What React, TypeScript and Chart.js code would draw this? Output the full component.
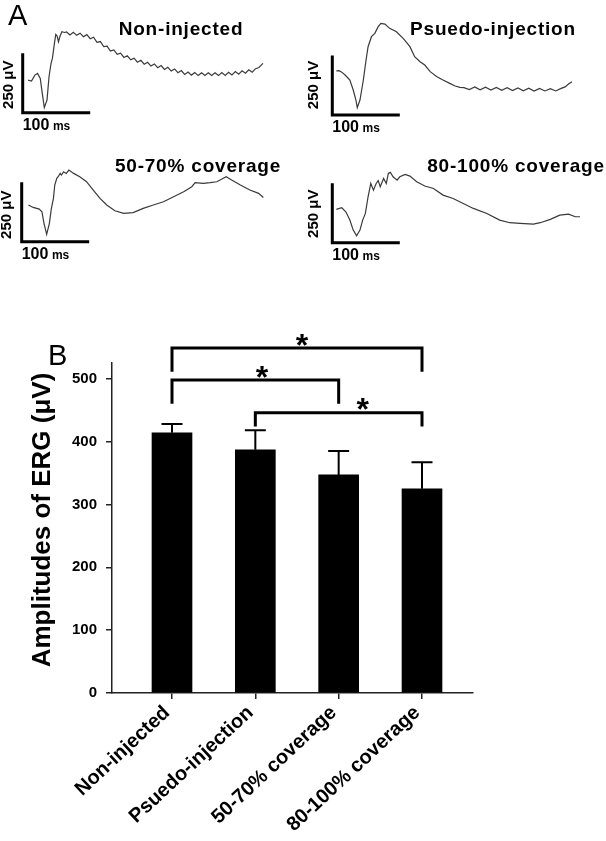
import React, { useEffect, useRef } from "react";
import { Chart, registerables } from "chart.js";

Chart.register(...registerables);

const FONT = "'Liberation Sans', Arial, Helvetica, sans-serif";

// ---------- Panel A: ERG traces (time in ms, amplitude in µV) ----------
const SCALE_MS = 100;
const SCALE_UV = 250;
const TRACE_TITLES = ["Non-injected", "Psuedo-injection", "50-70% coverage", "80-100% coverage"];

const T1 = [8, 13, 18, 22, 26, 29, 32, 36, 39, 42, 44, 47, 49, 51, 53, 55, 58, 62, 65, 70, 75, 80, 85, 90, 95, 100, 105, 110, 115, 120, 125, 130, 135, 140, 145, 150, 155, 160, 165, 170, 175, 180, 185, 190, 195, 200, 205, 210, 215, 220, 225, 230, 235, 240, 245, 250, 255, 260, 265, 270, 275, 280, 285, 290, 295, 300, 305, 310, 315, 320, 325, 330, 335, 340, 345, 350, 356];
const V1 = [137, 133, 158, 165, 144, 81, 22, 53, 151, 207, 228, 291, 329, 322, 298, 319, 340, 337, 339, 327, 338, 325, 334, 319, 328, 311, 317, 296, 299, 278, 280, 259, 264, 245, 250, 232, 239, 222, 229, 212, 220, 204, 212, 196, 205, 189, 198, 182, 191, 175, 184, 168, 177, 161, 171, 158, 169, 156, 168, 156, 168, 156, 168, 156, 169, 157, 170, 159, 173, 162, 176, 166, 180, 170, 185, 190, 207];

const T2 = [6, 10, 14, 19, 26, 31, 35, 37, 41, 46, 50, 53, 58, 63, 68, 72, 78, 85, 95, 105, 115, 122, 130, 137, 145, 155, 164, 174, 182, 189, 195, 203, 211, 219, 227, 235, 243, 251, 259, 267, 275, 283, 291, 299, 307, 315, 323, 331, 339, 345, 350, 355];
const V2 = [185, 186, 180, 168, 147, 105, 63, 31, 63, 147, 231, 287, 329, 343, 371, 385, 382, 364, 350, 322, 287, 245, 224, 210, 182, 161, 147, 133, 122, 116, 115, 107, 118, 106, 117, 105, 116, 104, 115, 103, 114, 102, 113, 101, 112, 101, 111, 101, 112, 118, 130, 140];

const T3 = [10, 17, 26, 30, 33, 37, 41, 44, 47, 49, 52, 54, 57, 59, 62, 66, 70, 77, 86, 96, 106, 116, 126, 138, 151, 165, 180, 195, 210, 225, 240, 252, 257, 269, 279, 289, 296, 303, 311, 324, 338, 351, 358];
const V3 = [154, 144, 137, 126, 77, 31, 77, 140, 182, 238, 266, 273, 287, 280, 294, 287, 301, 287, 273, 252, 217, 182, 154, 130, 119, 122, 140, 154, 168, 189, 210, 231, 248, 245, 248, 252, 262, 273, 259, 238, 217, 203, 186];

const T4 = [6, 14, 20, 26, 31, 36, 41, 45, 49, 53, 57, 61, 65, 68, 71, 76, 80, 83, 86, 90, 96, 100, 108, 115, 125, 137, 150, 164, 179, 194, 209, 229, 248, 263, 278, 298, 308, 323, 337, 350, 360, 367];
const V4 = [140, 147, 130, 95, 53, 29, 53, 95, 123, 193, 249, 221, 249, 261, 235, 270, 249, 291, 296, 277, 263, 277, 287, 280, 256, 238, 228, 200, 186, 165, 144, 123, 95, 84, 81, 78, 84, 98, 116, 120, 109, 109];

const TRACE_T = [T1, T2, T3, T4];
const TRACE_V = [V1, V2, V3, V4];

// ---------- Panel B: bar chart ----------
const GROUPS = ["Non-injected", "Psuedo-injection", "50-70% coverage", "80-100% coverage"];
const MEANS = [414, 387, 347, 325];
const ERRORS = [14, 31, 38, 42];
const Y_TICKS = [0, 100, 200, 300, 400, 500];
const Y_MAX = 525;
const Y_TITLE = "Amplitudes of ERG (μV)";
const BRACKET_FROM = [0, 0, 1];
const BRACKET_TO = [3, 2, 3];
const BRACKET_Y = [549, 498, 446];
const BRACKET_END = [511, 460, 424];
const STAR_X = [1.56, 1.08, 2.29];
const STAR_Y = [562, 511, 459];

// ---------- layout (pixels) ----------
const PX_PER_MS = 0.675;
const PX_PER_UV = 0.238;
const PANELS = [
  { left: 0, top: 0, w: 300, h: 140, cx: 22.7, cy: 112.7, tx: 181, ty: 30, vdx: -14, vdy: -28 },
  { left: 300, top: 0, w: 306, h: 140, cx: 32.3, cy: 115, tx: 193, ty: 30, vdx: -18, vdy: -30 },
  { left: 0, top: 140, w: 300, h: 140, cx: 21.7, cy: 101.7, tx: 198, ty: 27, vdx: -15, vdy: -27 },
  { left: 300, top: 140, w: 306, h: 140, cx: 32.3, cy: 102.7, tx: 216, ty: 27, vdx: -18, vdy: -29 },
];
const BL = { left: 0, top: 290, w: 606, h: 551, padTop: 73, padRight: 133, yWidth: 112, xHeight: 148, titleX: 50, titleY: 230 };

function makeTracePlugin(idx: number) {
  return {
    id: "traceLabels" + idx,
    afterDraw(chart: any) {
      const p = PANELS[idx];
      const ctx = chart.ctx as CanvasRenderingContext2D;
      const xs = chart.scales.x;
      const ys = chart.scales.y;
      const x0 = xs.getPixelForValue(0);
      const y0 = ys.getPixelForValue(0);
      ctx.save();
      ctx.fillStyle = "#000";
      // title
      ctx.font = `bold 19px ${FONT}`;
      (ctx as any).letterSpacing = "0.8px";
      ctx.textAlign = "center";
      ctx.textBaseline = "middle";
      ctx.fillText(TRACE_TITLES[idx], p.tx, p.ty);
      (ctx as any).letterSpacing = "0px";
      // vertical scale label
      ctx.save();
      ctx.translate(x0 + p.vdx, y0 + p.vdy);
      ctx.rotate(-Math.PI / 2);
      ctx.font = `bold 15px ${FONT}`;
      ctx.textAlign = "center";
      ctx.textBaseline = "middle";
      ctx.fillText(`${SCALE_UV} μV`, 0, 0);
      ctx.restore();
      // horizontal scale label
      ctx.textAlign = "left";
      ctx.textBaseline = "alphabetic";
      ctx.font = `bold 16px ${FONT}`;
      const num = `${SCALE_MS}`;
      ctx.fillText(num, x0, y0 + 17);
      const wNum = ctx.measureText(num).width;
      ctx.font = `bold 12px ${FONT}`;
      ctx.fillText("ms", x0 + wNum + 3.5, y0 + 17);
      // panel letter
      if (idx === 0) {
        ctx.font = `29px ${FONT}`;
        ctx.fillText("A", 8, 25);
      }
      ctx.restore();
    },
  };
}

function TraceChart({ idx }: { idx: number }) {
  const ref = useRef<HTMLCanvasElement>(null);
  const p = PANELS[idx];
  useEffect(() => {
    const T = TRACE_T[idx];
    const V = TRACE_V[idx];
    const chart = new Chart(ref.current as HTMLCanvasElement, {
      type: "line",
      data: {
        datasets: [
          {
            data: T.map((t, i) => ({ x: t, y: V[i] })),
            borderColor: "#3a3a3a",
            borderWidth: 1.2,
            pointRadius: 0,
            tension: 0,
            fill: false,
          },
          {
            data: [
              { x: 0, y: SCALE_UV },
              { x: 0, y: 0 },
              { x: SCALE_MS, y: 0 },
            ],
            borderColor: "#000",
            borderWidth: 3,
            pointRadius: 0,
            tension: 0,
            fill: false,
            borderJoinStyle: "miter",
            borderCapStyle: "butt",
          },
        ],
      },
      options: {
        responsive: false,
        animation: false,
        devicePixelRatio: 1,
        events: [],
        layout: { padding: 0 },
        plugins: { legend: { display: false }, tooltip: { enabled: false } },
        scales: {
          x: { type: "linear", display: false, min: -p.cx / PX_PER_MS, max: (p.w - p.cx) / PX_PER_MS },
          y: { type: "linear", display: false, min: -(p.h - p.cy) / PX_PER_UV, max: p.cy / PX_PER_UV },
        },
      } as any,
      plugins: [makeTracePlugin(idx)],
    });
    return () => chart.destroy();
  }, [idx]);
  return (
    <canvas
      ref={ref}
      width={p.w}
      height={p.h}
      style={{ position: "absolute", left: p.left, top: p.top, width: p.w, height: p.h }}
    />
  );
}

const barExtras = {
  id: "barExtras",
  afterDatasetsDraw(chart: any) {
    const ctx = chart.ctx as CanvasRenderingContext2D;
    const xs = chart.scales.x;
    const ys = chart.scales.y;
    ctx.save();
    ctx.strokeStyle = "#000";
    ctx.fillStyle = "#000";
    // error bars (upper)
    ctx.lineWidth = 2;
    ctx.lineCap = "butt";
    MEANS.forEach((m, i) => {
      const x = xs.getPixelForValue(i);
      const yA = ys.getPixelForValue(m);
      const yB = ys.getPixelForValue(m + ERRORS[i]);
      ctx.beginPath();
      ctx.moveTo(x, yA);
      ctx.lineTo(x, yB);
      ctx.moveTo(x - 10.5, yB);
      ctx.lineTo(x + 10.5, yB);
      ctx.stroke();
    });
    // significance brackets
    ctx.lineWidth = 3;
    ctx.lineJoin = "miter";
    BRACKET_FROM.forEach((f, k) => {
      const xa = xs.getPixelForValue(f);
      const xb = xs.getPixelForValue(BRACKET_TO[k]);
      const yl = ys.getPixelForValue(BRACKET_Y[k]);
      const ye = ys.getPixelForValue(BRACKET_END[k]);
      ctx.beginPath();
      ctx.moveTo(xa, ye);
      ctx.lineTo(xa, yl);
      ctx.lineTo(xb, yl);
      ctx.lineTo(xb, ye);
      ctx.stroke();
      ctx.font = `bold 32px ${FONT}`;
      ctx.textAlign = "center";
      ctx.textBaseline = "alphabetic";
      const mt = ctx.measureText("*");
      const cy = ys.getPixelForValue(STAR_Y[k]);
      const base = cy + (mt.actualBoundingBoxAscent - mt.actualBoundingBoxDescent) / 2;
      ctx.fillText("*", xs.getPixelForValue(STAR_X[k]), base);
    });
    ctx.restore();
  },
  afterDraw(chart: any) {
    const ctx = chart.ctx as CanvasRenderingContext2D;
    ctx.save();
    ctx.fillStyle = "#000";
    // y axis title
    ctx.save();
    ctx.translate(BL.titleX, BL.titleY);
    ctx.rotate(-Math.PI / 2);
    ctx.font = `bold 26px ${FONT}`;
    ctx.textAlign = "center";
    ctx.textBaseline = "alphabetic";
    ctx.fillText(Y_TITLE, 0, 0);
    ctx.restore();
    // panel letter
    ctx.font = `29px ${FONT}`;
    ctx.textAlign = "left";
    ctx.textBaseline = "alphabetic";
    ctx.fillText("B", 48, 75);
    ctx.restore();
  },
};

function BarChart() {
  const ref = useRef<HTMLCanvasElement>(null);
  useEffect(() => {
    const chart = new Chart(ref.current as HTMLCanvasElement, {
      type: "bar",
      data: {
        datasets: [
          {
            data: MEANS.map((m, i) => ({ x: i, y: m })),
            backgroundColor: "#000",
            borderWidth: 0,
            barThickness: 40,
          },
        ],
      },
      options: {
        responsive: false,
        animation: false,
        devicePixelRatio: 1,
        events: [],
        layout: { padding: { left: 0, top: BL.padTop, right: BL.padRight, bottom: 0 } },
        plugins: { legend: { display: false }, tooltip: { enabled: false } },
        scales: {
          x: {
            type: "linear",
            min: -0.72,
            max: 3.612,
            offset: false,
            afterFit: (s: any) => {
              s.height = BL.xHeight;
            },
            afterBuildTicks: (s: any) => {
              s.ticks = GROUPS.map((_, i) => ({ value: i }));
            },
            grid: { display: true, drawOnChartArea: false, drawTicks: true, tickLength: 6, color: "#222", lineWidth: 1.5, offset: false },
            border: { display: true, color: "#222", width: 1.5 },
            ticks: {
              autoSkip: false,
              minRotation: 43,
              maxRotation: 43,
              padding: 2,
              labelOffset: -5,
              color: "#000",
              font: { family: FONT, size: 20, weight: "bold" },
              callback: (v: any) => GROUPS[v] ?? "",
            },
          },
          y: {
            type: "linear",
            min: 0,
            max: Y_MAX,
            afterFit: (s: any) => {
              s.width = BL.yWidth;
            },
            afterBuildTicks: (s: any) => {
              s.ticks = Y_TICKS.map((v) => ({ value: v }));
            },
            grid: { drawOnChartArea: false, drawTicks: true, tickLength: 6, color: "#222", lineWidth: 1.5 },
            border: { display: true, color: "#222", width: 1.5 },
            ticks: { padding: 9, color: "#000", font: { family: FONT, size: 15, weight: "bold" } },
          },
        },
      } as any,
      plugins: [barExtras],
    });
    return () => chart.destroy();
  }, []);
  return (
    <canvas
      ref={ref}
      width={BL.w}
      height={BL.h}
      style={{ position: "absolute", left: BL.left, top: BL.top, width: BL.w, height: BL.h }}
    />
  );
}

export default function App() {
  return (
    <div
      style={{
        position: "absolute",
        left: 0,
        top: 0,
        width: 606,
        height: 841,
        background: "#fff",
        overflow: "hidden",
      }}
    >
      {PANELS.map((_, i) => (
        <TraceChart key={i} idx={i} />
      ))}
      <BarChart />
    </div>
  );
}
